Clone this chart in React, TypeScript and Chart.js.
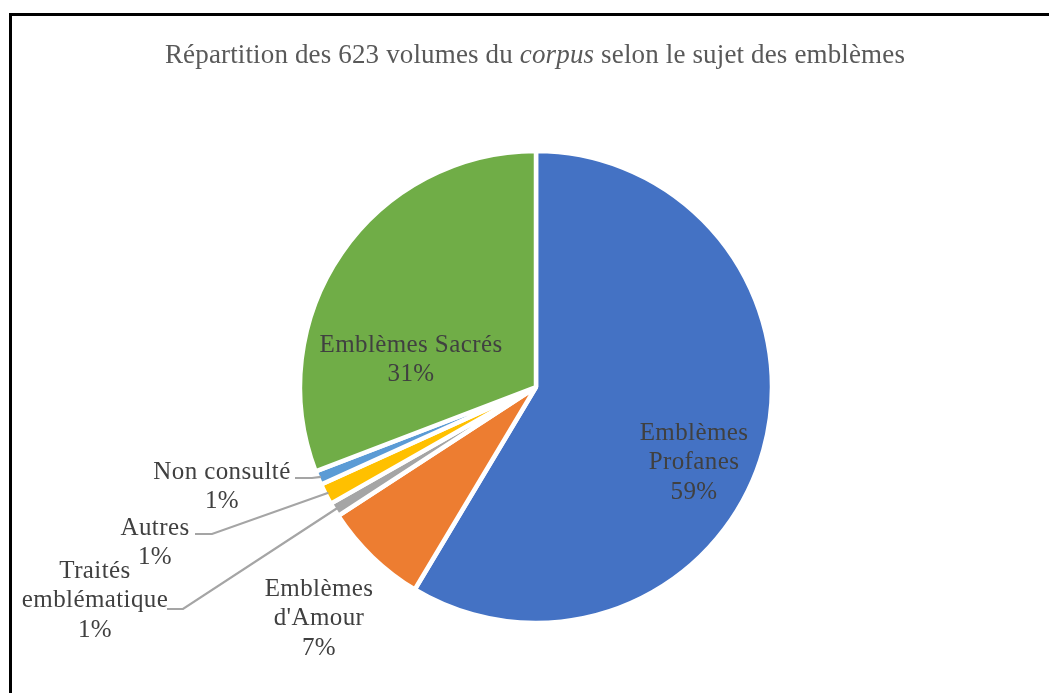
import React, { useEffect, useRef } from "react";
import { Chart, registerables } from "chart.js";

Chart.register(...registerables);

// ---- data ----
const categories = [
  "Emblèmes Profanes",
  "Emblèmes d'Amour",
  "Traités emblématique",
  "Autres",
  "Non consulté",
  "Emblèmes Sacrés",
];
const volumes = [365, 45, 6, 9, 6, 192];
const labelLines: string[][] = [
  ["Emblèmes", "Profanes"],
  ["Emblèmes", "d'Amour"],
  ["Traités", "emblématique"],
  ["Autres"],
  ["Non consulté"],
  ["Emblèmes Sacrés"],
];
const sliceColors = ["#4472C4", "#ED7D31", "#A5A5A5", "#FFC000", "#5B9BD5", "#70AD47"];
const titleParts = [
  { text: "Répartition des 623 volumes du ", italic: false },
  { text: "corpus", italic: true },
  { text: " selon le sujet des emblèmes", italic: false },
];

// ---- label layout (relative to pie centre) ----
const labelPos = [
  { x: 158, y: 53 },
  { x: -217, y: 209 },
  { x: -441, y: 191 },
  { x: -381, y: 148 },
  { x: -314, y: 92 },
  { x: -125, y: -35 },
];
// leader: horizontal segment start/end (relative to centre), then to the slice edge
const leaders: ({ x1: number; x2: number; y: number } | null)[] = [
  null,
  null,
  { x1: -369, x2: -353, y: 222 },
  { x1: -341, x2: -324, y: 147 },
  { x1: -241, x2: -224, y: 91 },
  null,
];

const FONT = '"Liberation Serif", "Times New Roman", serif';

const labelPlugin = {
  id: "excelLabels",
  beforeDraw(chart: any) {
    const ctx = chart.ctx;
    ctx.save();
    ctx.fillStyle = "#ffffff";
    ctx.fillRect(0, 0, chart.width, chart.height);
    ctx.restore();
  },
  afterDatasetsDraw(chart: any) {
    const ctx = chart.ctx;
    const meta = chart.getDatasetMeta(0);
    const arcs = meta.data;
    if (!arcs.length) return;
    const cx = arcs[0].x;
    const cy = arcs[0].y;
    const total = volumes.reduce((a, b) => a + b, 0);

    // frame
    ctx.save();
    ctx.strokeStyle = "#000000";
    ctx.lineWidth = 3;
    ctx.beginPath();
    ctx.moveTo(9, 14.5);
    ctx.lineTo(chart.width + 5, 14.5);
    ctx.moveTo(10.5, 13);
    ctx.lineTo(10.5, chart.height + 5);
    ctx.stroke();
    ctx.restore();

    // title
    ctx.save();
    ctx.fillStyle = "#595959";
    ctx.textBaseline = "alphabetic";
    ctx.textAlign = "left";
    (ctx as any).letterSpacing = "0.15px";
    const fontFor = (it: boolean) => `${it ? "italic " : ""}27px ${FONT}`;
    let tw = 0;
    const widths = titleParts.map((p) => {
      ctx.font = fontFor(p.italic);
      const w = ctx.measureText(p.text).width;
      tw += w;
      return w;
    });
    let tx = cx - 1 - tw / 2;
    titleParts.forEach((p, i) => {
      ctx.font = fontFor(p.italic);
      ctx.fillText(p.text, tx, 63);
      tx += widths[i];
    });
    ctx.restore();

    // leader lines
    ctx.save();
    ctx.strokeStyle = "#A5A5A5";
    ctx.lineWidth = 2.2;
    ctx.lineJoin = "miter";
    arcs.forEach((arc: any, i: number) => {
      const l = leaders[i];
      if (!l) return;
      const mid = (arc.startAngle + arc.endAngle) / 2;
      const r = arc.outerRadius - 3;
      const ex = cx + Math.cos(mid) * r;
      const ey = cy + Math.sin(mid) * r;
      ctx.beginPath();
      ctx.moveTo(cx + l.x1, cy + l.y);
      ctx.lineTo(cx + l.x2, cy + l.y);
      ctx.lineTo(ex, ey);
      ctx.stroke();
    });
    ctx.restore();

    // labels
    ctx.save();
    ctx.fillStyle = "#404040";
    ctx.font = `25px ${FONT}`;
    (ctx as any).letterSpacing = "0.4px";
    ctx.textAlign = "center";
    ctx.textBaseline = "alphabetic";
    arcs.forEach((_arc: any, i: number) => {
      const pct = Math.round((volumes[i] / total) * 100) + "%";
      const lines = [...labelLines[i], pct];
      const p = labelPos[i];
      lines.forEach((t, k) => {
        ctx.fillText(t, cx + p.x, cy + p.y + k * 29.3);
      });
    });
    ctx.restore();
  },
};

export default function App() {
  const ref = useRef<HTMLCanvasElement | null>(null);
  useEffect(() => {
    if (!ref.current) return;
    const chart = new Chart(ref.current, {
      type: "pie",
      data: {
        labels: categories,
        datasets: [
          {
            data: volumes,
            backgroundColor: sliceColors,
            borderColor: "#ffffff",
            borderWidth: 4.5,
            radius: 236,
          } as any,
        ],
      },
      options: {
        responsive: false,
        animation: false,
        events: [],
        layout: { padding: { left: 123, right: 100, top: 131, bottom: 50 } },
        plugins: {
          legend: { display: false },
          title: { display: false },
          tooltip: { enabled: false },
        },
      },
      plugins: [labelPlugin],
    });
    return () => chart.destroy();
  }, []);
  return (
    <div style={{ position: "fixed", left: 0, top: 0, width: 1049, height: 693, background: "#fff" }}>
      <canvas ref={ref} width={1049} height={693} style={{ display: "block", width: 1049, height: 693 }} />
    </div>
  );
}
